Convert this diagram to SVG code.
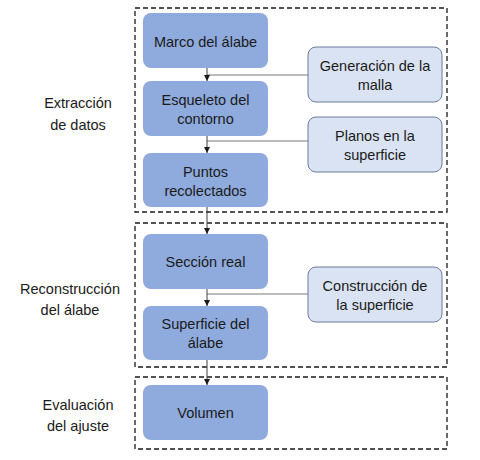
<svg xmlns="http://www.w3.org/2000/svg" width="480" height="460" viewBox="0 0 480 460">
<style>
text{font-family:"Liberation Sans",Arial,sans-serif;font-size:14.5px;fill:#1a1a1a;text-anchor:middle}
.grp{fill:none;stroke:#1a1a1a;stroke-width:1.3;stroke-dasharray:5,3}
.main{fill:#8faadc;stroke:none}
.side{fill:#dae3f3;stroke:#6a7c99;stroke-width:1}
.v{stroke:#404040;stroke-width:1;fill:none}
.h{stroke:#a6a6a6;stroke-width:1.3;fill:none}
</style>
<defs>
<marker id="ah" viewBox="0 0 6 6" refX="6" refY="3" markerWidth="6" markerHeight="6" orient="auto" markerUnits="userSpaceOnUse">
<path d="M0,0 L6,3 L0,6 Z" fill="#1a1a1a"/>
</marker>
</defs>
<g id="groups">
<rect class="grp" x="135" y="8" width="312" height="204"/>
<rect class="grp" x="135" y="223" width="312" height="144"/>
<rect class="grp" x="135" y="377" width="312" height="72"/>
<text x="78" y="108">Extracción</text>
<text x="78" y="130">de datos</text>
<text x="70" y="294">Reconstrucción</text>
<text x="70" y="315">del álabe</text>
<text x="78" y="410">Evaluación</text>
<text x="78" y="431">del ajuste</text>
</g>
<g id="connectors">
<line class="h" x1="308" y1="75" x2="207" y2="75"/>
<line class="h" x1="308" y1="141" x2="207" y2="141"/>
<line class="h" x1="308" y1="294" x2="207" y2="294"/>
<line class="v" x1="207" y1="68" x2="207" y2="81" marker-end="url(#ah)"/>
<line class="v" x1="207" y1="136" x2="207" y2="153" marker-end="url(#ah)"/>
<line class="v" x1="207" y1="207" x2="207" y2="234" marker-end="url(#ah)"/>
<line class="v" x1="207" y1="289" x2="207" y2="306" marker-end="url(#ah)"/>
<line class="v" x1="207" y1="360" x2="207" y2="385" marker-end="url(#ah)"/>
</g>
<g id="n1"><rect class="main" x="143" y="13" width="125" height="55" rx="8"/><text x="205.5" y="47">Marco del álabe</text></g>
<g id="n2"><rect class="main" x="143" y="81" width="125" height="55" rx="8"/><text x="205.5" y="105">Esqueleto del</text><text x="205.5" y="124">contorno</text></g>
<g id="n3"><rect class="main" x="143" y="153" width="125" height="54" rx="8"/><text x="205.5" y="177">Puntos</text><text x="205.5" y="196">recolectados</text></g>
<g id="n4"><rect class="main" x="143" y="234" width="125" height="55" rx="8"/><text x="205.5" y="267">Sección real</text></g>
<g id="n5"><rect class="main" x="143" y="306" width="125" height="54" rx="8"/><text x="205.5" y="329">Superficie del</text><text x="205.5" y="348">álabe</text></g>
<g id="n6"><rect class="main" x="143" y="385" width="125" height="55" rx="8"/><text x="205.5" y="418">Volumen</text></g>
<g id="s1"><rect class="side" x="308" y="47" width="134" height="55" rx="8"/><text x="375" y="71">Generación de la</text><text x="375" y="90">malla</text></g>
<g id="s2"><rect class="side" x="308" y="117" width="134" height="55" rx="8"/><text x="375" y="141">Planos en la</text><text x="375" y="160">superficie</text></g>
<g id="s3"><rect class="side" x="308" y="267" width="134" height="55" rx="8"/><text x="375" y="291">Construcción de</text><text x="375" y="310">la superficie</text></g>
</svg>
